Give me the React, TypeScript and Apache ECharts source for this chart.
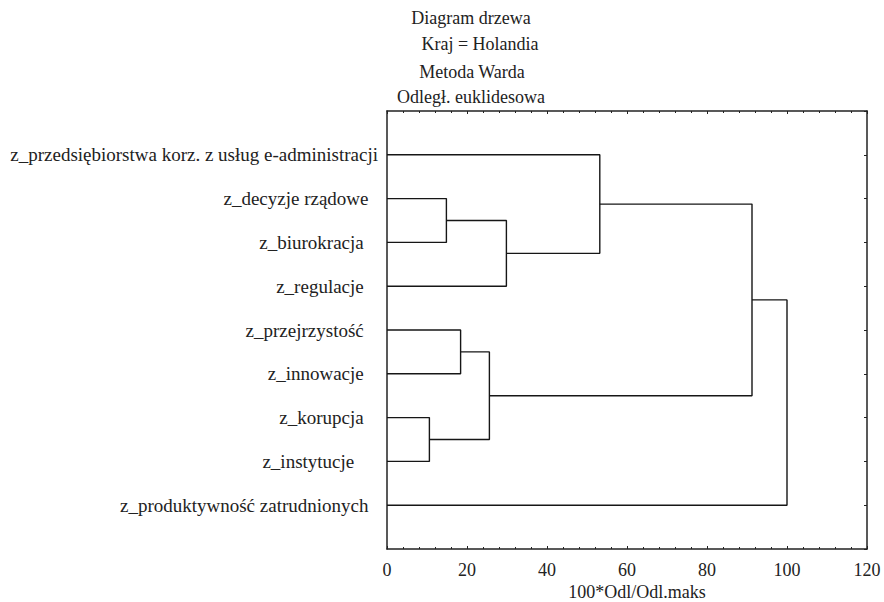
import React, { useEffect, useRef } from "react";
import * as echarts from "echarts";

const leafNames = [
  "z_przedsiębiorstwa korz. z usług e-administracji",
  "z_decyzje rządowe  ",
  "z_biurokracja   ",
  "z_regulacje   ",
  "z_przejrzystość   ",
  "z_innowacje   ",
  "z_korupcja   ",
  "z_instytucje     ",
  "z_produktywność zatrudnionych  ",
];

// merges: [childA, childB, linkage distance]; nodes 0..8 are leaves, 9+ are merges in order
const mergeA = [1, 9, 0, 4, 6, 12, 11, 15];
const mergeB = [2, 3, 10, 5, 7, 13, 14, 8];
const mergeHeight = [14.85, 29.85, 53.2, 18.4, 10.6, 25.6, 91.25, 100];

const xTicks = [0, 20, 40, 60, 80, 100, 120];
const titleLines = ["Diagram drzewa", "Kraj = Holandia", "Metoda Warda", "Odległ. euklidesowa"];
const xAxisTitle = "100*Odl/Odl.maks";

const FONT = "Liberation Serif, Times New Roman, serif";
const FS = 18;
const FS_Y = 19;
const INK = "#222";

export default function App() {
  const ref = useRef<HTMLDivElement>(null);
  useEffect(() => {
    if (!ref.current) return;
    const chart = echarts.init(ref.current, null, { renderer: "svg" });

    const nodeY: number[] = leafNames.map((_, i) => i + 1);
    const nodeH: number[] = leafNames.map(() => 0);
    const series: any[] = [];
    mergeA.forEach((a, k) => {
      const b = mergeB[k];
      const h = mergeHeight[k];
      const ya = nodeY[a];
      const yb = nodeY[b];
      nodeY.push((ya + yb) / 2);
      nodeH.push(h);
      series.push({
        type: "line",
        data: [
          [nodeH[a], ya],
          [h, ya],
          [h, yb],
          [nodeH[b], yb],
        ],
        symbol: "none",
        lineStyle: { color: "#161616", width: 1.4 },
        silent: true,
      });
    });

    const titleX = [471, 480, 472, 471];
    const titleY = [18, 44, 72, 97];

    const xBase = {
      type: "value",
      min: xTicks[0],
      max: xTicks[xTicks.length - 1],
      interval: 20,
      axisLine: { show: true, onZero: false, lineStyle: { color: INK, width: 1.5 } },
      axisTick: { show: true, inside: true, length: 3, lineStyle: { color: INK } },
      minorTick: { show: true, splitNumber: 5, length: 2, lineStyle: { color: INK } },
      splitLine: { show: false },
    };
    const yBase = {
      type: "value",
      min: 0,
      max: leafNames.length + 1,
      interval: 1,
      inverse: true,
      splitLine: { show: false },
    };

    chart.setOption({
      animation: false,
      textStyle: { fontFamily: FONT, fontSize: FS, color: INK },
      grid: { left: 387, right: 17, top: 111, bottom: 53, containLabel: false },
      xAxis: [
        {
          ...xBase,
          position: "bottom",
          axisLabel: {
            color: INK,
            fontFamily: FONT,
            fontSize: FS,
            margin: 12,
          },
        },
        {
          ...xBase,
          position: "top",
          axisLabel: { show: false },
        },
      ],
      yAxis: [
        {
          ...yBase,
          position: "left",
          axisLine: { show: true, onZero: false, lineStyle: { color: INK, width: 1.5 } },
          axisTick: { show: false },
          axisLabel: {
            color: INK,
            fontFamily: FONT,
            fontSize: FS_Y,
            margin: 9,
            showMinLabel: false,
            showMaxLabel: false,
            formatter: (v: number) => leafNames[v - 1] ?? "",
          },
        },
        {
          ...yBase,
          position: "right",
          axisLine: { show: true, onZero: false, lineStyle: { color: INK, width: 1.5 } },
          axisTick: { show: true, inside: true, length: 3, lineStyle: { color: INK } },
          axisLabel: { show: false },
        },
      ],
      series,
      graphic: [
        ...titleLines.map((t, i) => ({
          type: "text",
          x: titleX[i],
          y: titleY[i],
          style: {
            text: t,
            fill: INK,
            font: `${FS}px ${FONT}`,
            textAlign: "center",
            textVerticalAlign: "middle",
          },
        })),
        {
          type: "text",
          x: 637,
          y: 592,
          style: {
            text: xAxisTitle,
            fill: INK,
            font: `${FS}px ${FONT}`,
            textAlign: "center",
            textVerticalAlign: "middle",
          },
        },
      ],
    });
    return () => chart.dispose();
  }, []);
  return (
    <div
      ref={ref}
      style={{ position: "absolute", left: 0, top: 0, width: 884, height: 602 }}
    />
  );
}
